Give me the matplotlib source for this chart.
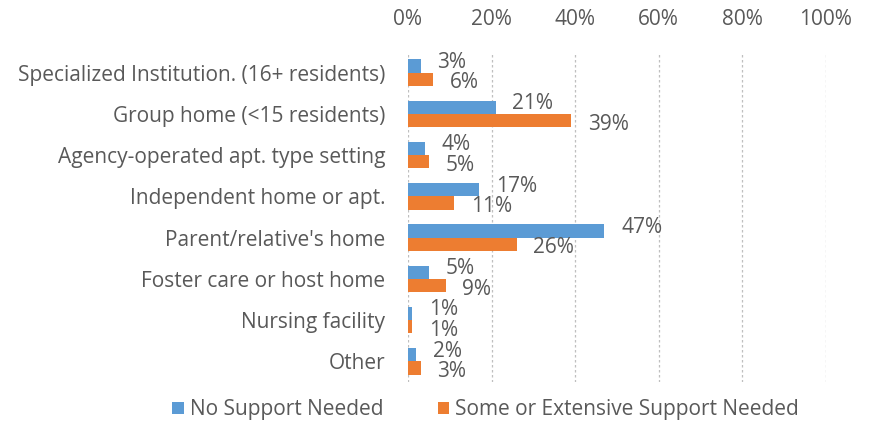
import numpy as np
import matplotlib.pyplot as plt
from matplotlib.ticker import PercentFormatter

categories = [
    "Specialized Institution. (16+ residents)",
    "Group home (<15 residents)",
    "Agency-operated apt. type setting",
    "Independent home or apt.",
    "Parent/relative's home",
    "Foster care or host home",
    "Nursing facility",
    "Other",
]
no_support = [3, 21, 4, 17, 47, 5, 1, 2]
some_support = [6, 39, 5, 11, 26, 9, 1, 3]
series_names = ["No Support Needed", "Some or Extensive Support Needed"]

blue = "#5B9BD5"
orange = "#ED7D31"
text_col = "#595959"
fs = 15

plt.rcParams['font.family'] = ['Open Sans', 'DejaVu Sans']

fig = plt.figure(figsize=(8.69, 4.23), dpi=100)
ax = fig.add_axes([0.4695, 0.097, 0.481, 0.780])

y = np.arange(len(categories))
h = 0.32
b1 = ax.barh(y - h / 2, no_support, height=h, color=blue, label=series_names[0])
b2 = ax.barh(y + h / 2, some_support, height=h, color=orange, label=series_names[1])

# value labels, nudged apart a little so the pairs do not collide
for yi, v in zip(y, no_support):
    ax.text(v + 4.0, yi - h / 2 - 0.09, f"{v}%", va="center", ha="left",
            fontsize=fs, color=text_col)
for yi, v in zip(y, some_support):
    ax.text(v + 4.0, yi + h / 2 + 0.09, f"{v}%", va="center", ha="left",
            fontsize=fs, color=text_col)

ax.set_xlim(0, 100)
ax.set_ylim(len(categories) - 0.5, -0.5)
ax.set_xticks(np.arange(0, 101, 20))
ax.xaxis.set_major_formatter(PercentFormatter(decimals=0))
ax.xaxis.tick_top()
ax.tick_params(axis="x", length=0, pad=16, labelsize=fs, labelcolor=text_col)
ax.set_yticks(y)
ax.set_yticklabels(categories)
ax.tick_params(axis="y", length=0, pad=16.5, labelsize=fs, labelcolor=text_col)

ax.grid(axis="x", color="#BFBFBF", linestyle=(0, (2, 2)), linewidth=0.9)
ax.set_axisbelow(True)
for s in ax.spines.values():
    s.set_visible(False)

fig.legend(handles=[b1, b2], labels=series_names, loc="center",
           bbox_to_anchor=(0.559, 0.031), ncol=2, frameon=False,
           fontsize=fs, labelcolor=text_col, handlelength=0.55,
           handleheight=0.55, handletextpad=0.3, columnspacing=2.6)

fig.savefig("out.png", dpi=100)
